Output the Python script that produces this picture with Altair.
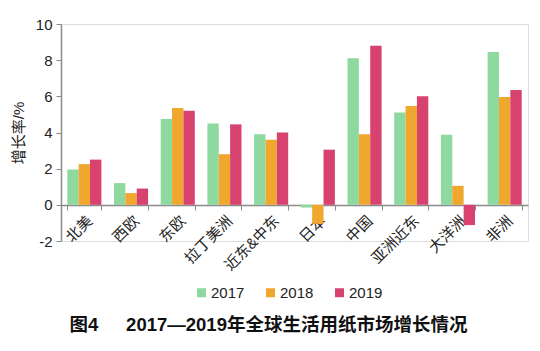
import altair as alt
import pandas as pd

regions = ["北美", "西欧", "东欧", "拉丁美洲", "近东&中东", "日本", "中国", "亚洲近东", "大洋洲", "非洲"]
years = ["2017", "2018", "2019"]
v2017 = [1.95, 1.2, 4.75, 4.5, 3.9, -0.15, 8.1, 5.1, 3.87, 8.45]
v2018 = [2.25, 0.65, 5.35, 2.8, 3.6, -1.05, 3.9, 5.47, 1.05, 5.97]
v2019 = [2.5, 0.9, 5.2, 4.45, 4.0, 3.05, 8.8, 6.0, -1.12, 6.35]
colors = ["#8ED9A0", "#F0A72E", "#D8426F"]

rows = []
for i, r in enumerate(regions):
    for y, vals in zip(years, [v2017, v2018, v2019]):
        rows.append({"region": r, "year": y, "value": vals[i]})
df = pd.DataFrame(rows)

FONT = "Liberation Sans, Noto Sans CJK SC"

chart = alt.Chart(df).mark_bar().encode(
    x=alt.X("region:N", sort=regions, title=None,
            scale=alt.Scale(paddingInner=0.27, paddingOuter=0.135),
            axis=alt.Axis(offset=-36, labelAngle=-45, labelFontSize=15,
                          labelFont=FONT, labelColor="#222", tickBand="extent",
                          domainColor="#8a8a8a", tickColor="#8a8a8a",
                          tickSize=5, labelPadding=3, domainWidth=1.5)),
    xOffset=alt.XOffset("year:N", sort=years),
    y=alt.Y("value:Q", title="增长率/%",
            scale=alt.Scale(domain=[-2, 10], nice=False),
            axis=alt.Axis(values=[-2, 0, 2, 4, 6, 8, 10], grid=False,
                          labelExpr="'' + datum.value",
                          labelFontSize=15, labelFont=FONT, labelColor="#222",
                          titleFont=FONT, titleFontSize=15, titleFontWeight="normal",
                          titleColor="#222", titlePadding=9,
                          domainColor="#8a8a8a", tickColor="#8a8a8a",
                          tickSize=5, labelPadding=4, domainWidth=1.5)),
    color=alt.Color("year:N", sort=years,
                    scale=alt.Scale(domain=years, range=colors),
                    legend=alt.Legend(title=None, orient="none", direction="horizontal",
                                      legendX=133, legendY=261,
                                      symbolType="square", symbolSize=81,
                                      symbolStrokeWidth=0,
                                      labelFont=FONT, labelFontSize=15,
                                      labelColor="#222", labelOffset=2,
                                      columnPadding=18)),
).properties(
    width=467,
    height=217,
    title=alt.TitleParams("图4\u3000\u20022017—2019年全球生活用纸市场增长情况",
                          orient="bottom", anchor="middle", font=FONT,
                          fontSize=18.5, fontWeight="bold", color="#111",
                          offset=15, dx=-26),
    autosize=alt.AutoSizeParams(type="none"),
    padding={"left": 61, "top": 24, "right": 12, "bottom": 110},
).configure_view(stroke=None).configure(background="white")

chart.save("out.html", embed_options={"renderer": "svg", "actions": False})
